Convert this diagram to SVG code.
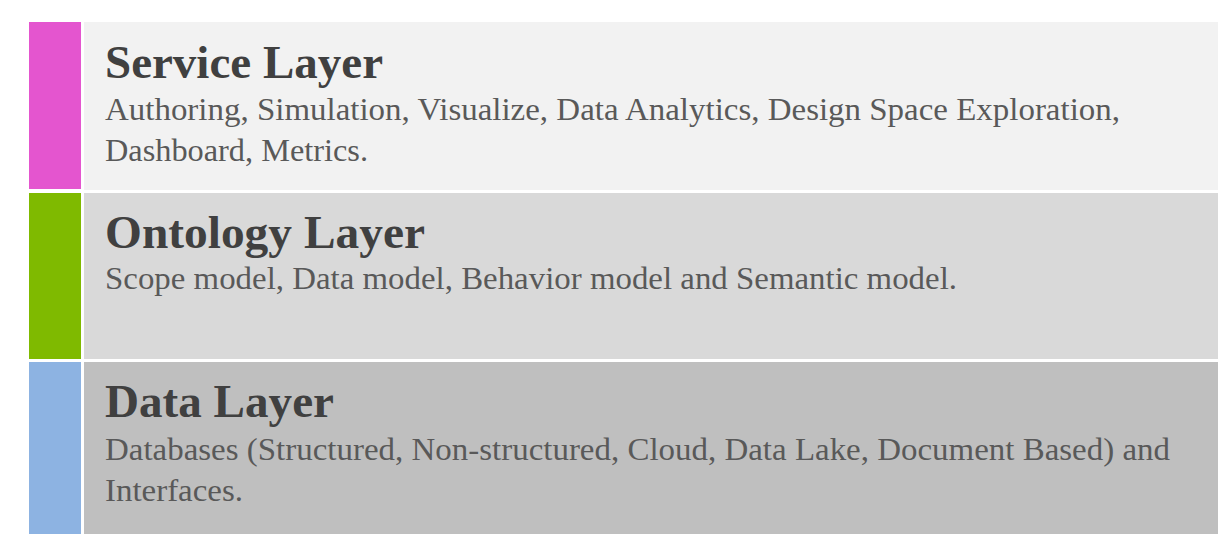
<svg xmlns="http://www.w3.org/2000/svg" width="1230" height="544" viewBox="0 0 1230 544">
<style>
.title{font-family:"Liberation Serif","Times New Roman",serif;font-weight:bold;font-size:46px;fill:#404040}
.body{font-family:"Liberation Serif","Times New Roman",serif;font-size:31px;fill:#595959}
</style>
<rect x="0" y="0" width="1230" height="544" fill="#ffffff"/>
<g id="service-layer">
<rect x="29" y="22" width="52" height="167" fill="#E455CF"/>
<rect x="84" y="22" width="1134" height="168" fill="#F2F2F2"/>
<text class="title" x="105" y="78" textLength="278" lengthAdjust="spacingAndGlyphs">Service Layer</text>
<text class="body" x="105" y="120" textLength="1015" lengthAdjust="spacingAndGlyphs">Authoring, Simulation, Visualize,  Data Analytics, Design Space Exploration,</text>
<text class="body" x="105" y="161" textLength="263" lengthAdjust="spacingAndGlyphs">Dashboard, Metrics.</text>
</g>
<g id="ontology-layer">
<rect x="29" y="193" width="52" height="166" fill="#7FBA00"/>
<rect x="84" y="193" width="1134" height="166" fill="#D9D9D9"/>
<text class="title" x="105" y="248" textLength="320" lengthAdjust="spacingAndGlyphs">Ontology Layer</text>
<text class="body" x="105" y="289" textLength="852" lengthAdjust="spacingAndGlyphs">Scope model, Data model, Behavior model and Semantic model.</text>
</g>
<g id="data-layer">
<rect x="29" y="362" width="52" height="172" fill="#8DB3E2"/>
<rect x="84" y="362" width="1134" height="172" fill="#BFBFBF"/>
<text class="title" x="105" y="417" textLength="229" lengthAdjust="spacingAndGlyphs">Data Layer</text>
<text class="body" x="105" y="460" textLength="1065" lengthAdjust="spacingAndGlyphs">Databases (Structured, Non-structured, Cloud, Data Lake, Document Based) and</text>
<text class="body" x="105" y="501" textLength="138" lengthAdjust="spacingAndGlyphs">Interfaces.</text>
</g>
<g id="connectors"/>
</svg>
